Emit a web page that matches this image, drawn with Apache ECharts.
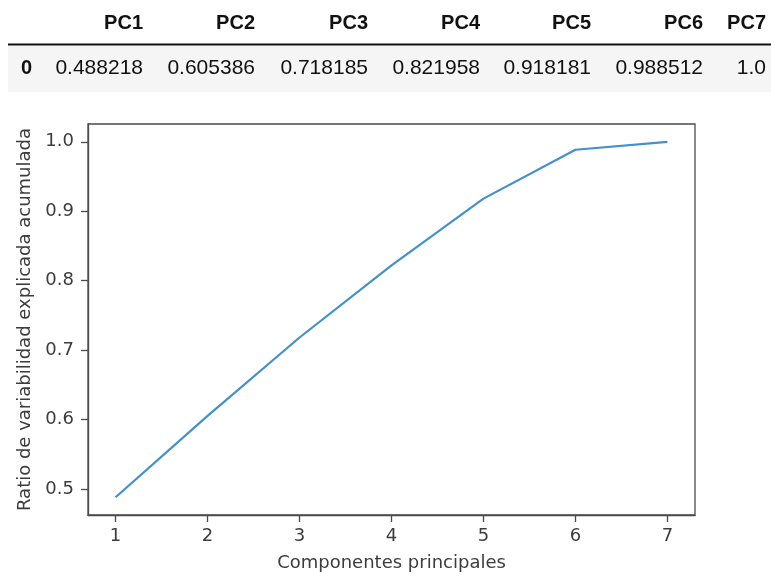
<!DOCTYPE html>
<html>
<head>
<meta charset="utf-8">
<script src="https://cdn.jsdelivr.net/npm/echarts@6/dist/echarts.min.js"></script>
<style>
html,body{margin:0;padding:0;background:#fff;}
#chart{width:771px;height:577px;}
</style>
</head>
<body>
<div id="chart"></div>
<script>
// ---- data ----
var components = [1, 2, 3, 4, 5, 6, 7];
var ratios = [0.488218, 0.605386, 0.718185, 0.821958, 0.918181, 0.988512, 1.0];
var tableHeaders = ['PC1', 'PC2', 'PC3', 'PC4', 'PC5', 'PC6', 'PC7'];
var tableValues = ['0.488218', '0.605386', '0.718185', '0.821958', '0.918181', '0.988512', '1.0'];
var tableIndex = '0';
var xTicks = [1, 2, 3, 4, 5, 6, 7];
var yTicks = [0.5, 0.6, 0.7, 0.8, 0.9, 1.0];
var xTitle = 'Componentes principales';
var yTitle = 'Ratio de variabilidad explicada acumulada';

// ---- table layout ----
var colRight = [143, 255, 368, 480, 591, 703, 766];
var graphics = [];
graphics.push({type:'rect', shape:{x:8, y:46, width:763, height:46}, style:{fill:'#f5f5f5'}, silent:true});
graphics.push({type:'line', shape:{x1:8, y1:44.5, x2:771, y2:44.5}, style:{stroke:'#111', lineWidth:2}, silent:true});
tableHeaders.forEach(function(h, i){
  graphics.push({type:'text', x:colRight[i], y:23, style:{text:h, align:'right', verticalAlign:'middle', font:'bold 20px "Liberation Sans", Arial, sans-serif', fill:'#111'}});
});
graphics.push({type:'text', x:32, y:68, style:{text:tableIndex, align:'right', verticalAlign:'middle', font:'bold 20px "Liberation Sans", Arial, sans-serif', fill:'#111'}});
tableValues.forEach(function(v, i){
  graphics.push({type:'text', x:colRight[i], y:68, style:{text:v, align:'right', verticalAlign:'middle', font:'21px "Liberation Sans", Arial, sans-serif', fill:'#111'}});
});

var seriesData = components.map(function(c, i){ return [c, ratios[i]]; });
var axisColor = '#4a4a4a';
var labelFont = {fontFamily:'DejaVu Sans', fontSize:18, color:'#3c3c3c'};

var chart = echarts.init(document.getElementById('chart'), null, {renderer:'canvas'});
chart.setOption({
  animation:false,
  backgroundColor:'#fff',
  graphic: graphics,
  grid:{left:88, right:76, top:124, bottom:58, show:true, borderColor:axisColor, borderWidth:1.3, backgroundColor:'transparent'},
  xAxis:{
    type:'value', min:0.7, max:7.3,
    name:xTitle, nameLocation:'middle', nameGap:39,
    nameTextStyle:labelFont,
    axisLine:{show:true, lineStyle:{color:axisColor, width:1.3}},
    axisTick:{show:true, length:7, customValues:xTicks, lineStyle:{color:axisColor, width:1.3}},
    axisLabel:Object.assign({margin:12, customValues:xTicks}, labelFont),
    splitLine:{show:false}
  },
  yAxis:{
    type:'value', min:0.46259, max:1.02563,
    name:yTitle, nameLocation:'middle', nameGap:49, nameRotate:90,
    nameTextStyle:labelFont,
    axisLine:{show:true, lineStyle:{color:axisColor, width:1.3}},
    axisTick:{show:true, length:7, customValues:yTicks, lineStyle:{color:axisColor, width:1.3}},
    axisLabel:Object.assign({margin:14, customValues:yTicks, formatter:function(v){return v.toFixed(1);}}, labelFont),
    splitLine:{show:false}
  },
  series:[{
    type:'line', data:seriesData, showSymbol:false, symbol:'none',
    lineStyle:{color:'#4290cc', width:2.2}, itemStyle:{color:'#4290cc'}
  }]
});
</script>
</body>
</html>
